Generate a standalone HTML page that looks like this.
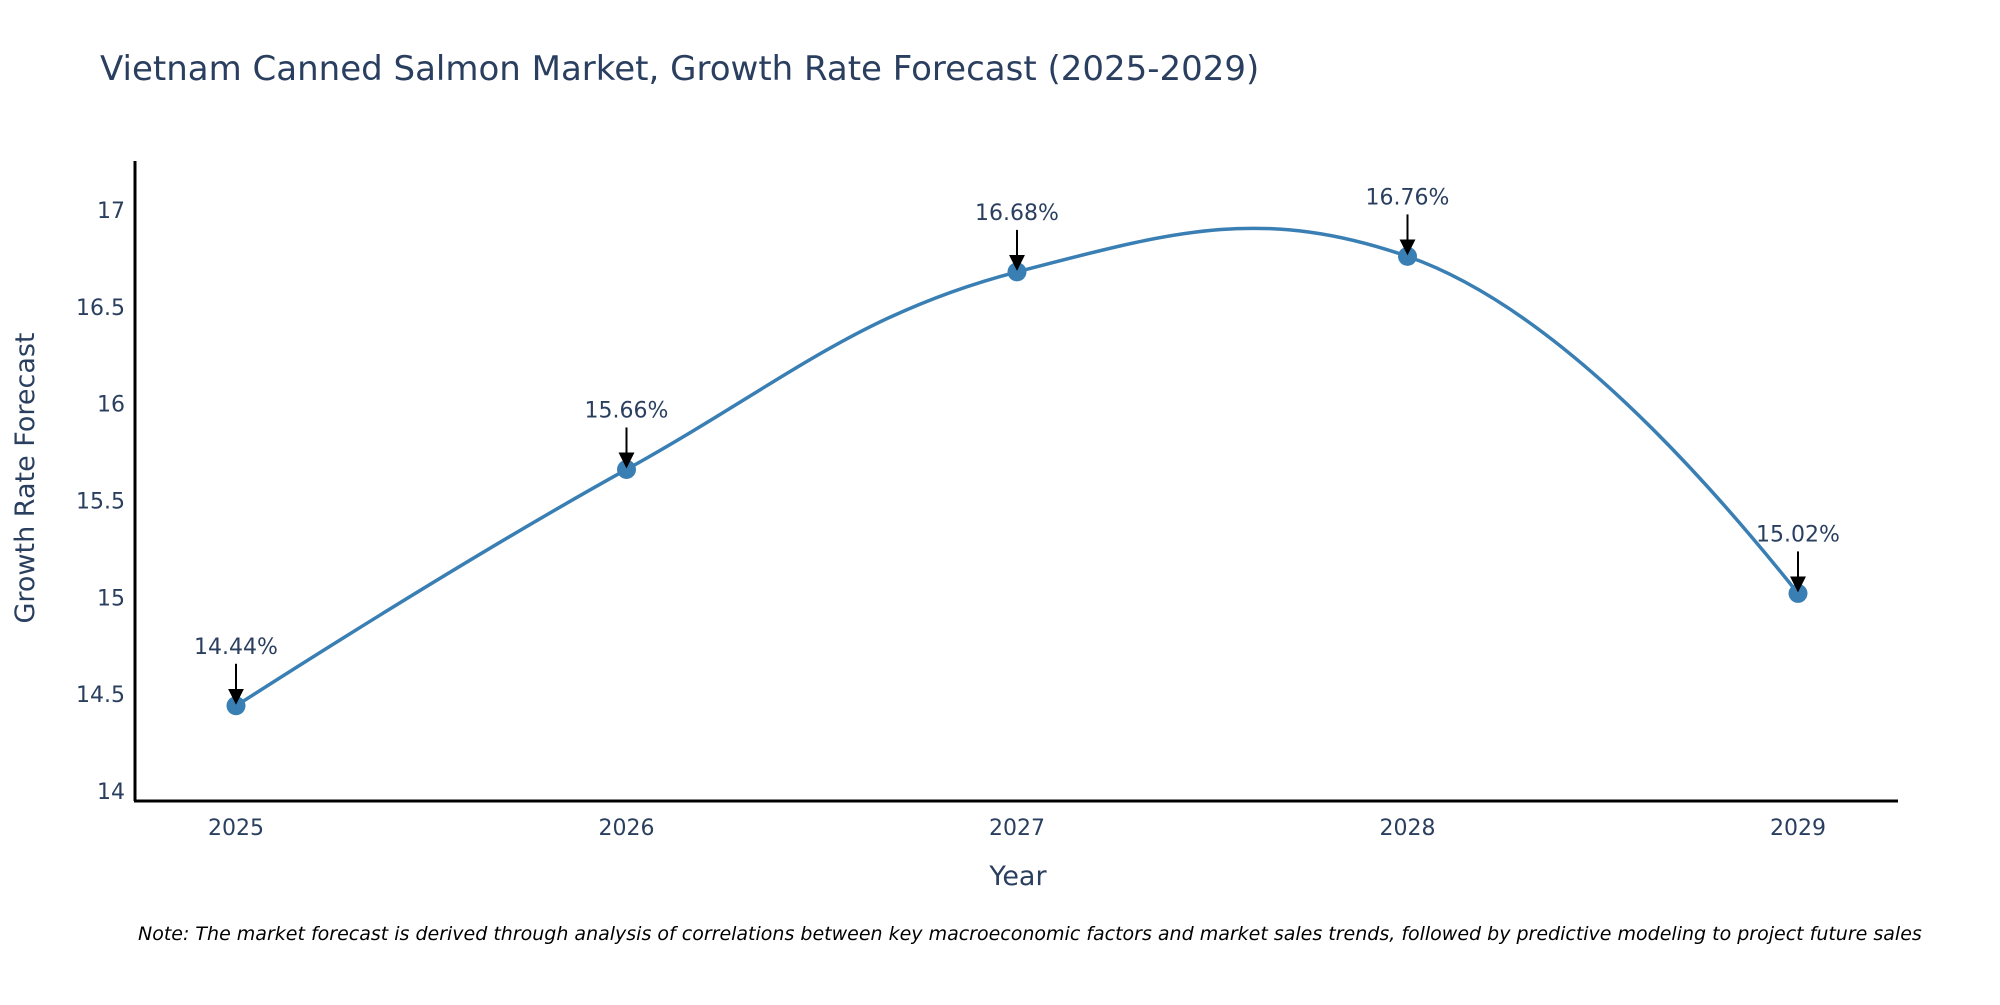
<!DOCTYPE html>
<html><head><meta charset="utf-8"><style>
body{margin:0;background:#fff;}
svg text{font-family:"DejaVu Sans","Liberation Sans",sans-serif;fill:#2a3f5f;}
</style></head><body>
<svg width="2000" height="1000" xmlns="http://www.w3.org/2000/svg">
<text x="100" y="80" font-size="34">Vietnam Canned Salmon Market, Growth Rate Forecast (2025-2029)</text>
<g id="yticks"></g>
<g id="xticks"></g>
<line x1="135" y1="161" x2="135" y2="801" stroke="#000" stroke-width="3"/>
<line x1="134" y1="801" x2="1898" y2="801" stroke="#000" stroke-width="3"/>
<path id="line" fill="none" stroke="#3a7fb4" stroke-width="3.5"/>
<g id="marks"></g>
<defs><marker id="ah" markerWidth="16" markerHeight="16" refX="14" refY="8" orient="auto" markerUnits="userSpaceOnUse"><path d="M0,0 L16,8 L0,16 z" fill="#000"/></marker></defs>
<text transform="translate(34,478) rotate(-90)" text-anchor="middle" font-size="27">Growth Rate Forecast</text>
<text x="1018" y="885" text-anchor="middle" font-size="27">Year</text>
<text x="138" y="940" font-size="19" font-style="italic" style="fill:#000">Note: The market forecast is derived through analysis of correlations between key macroeconomic factors and market sales trends, followed by predictive modeling to project future sales</text>
</svg>
<script>
const years=[2025,2026,2027,2028,2029];
const values=[14.44,15.66,16.68,16.76,15.02];
const labels=["14.44%","15.66%","16.68%","16.76%","15.02%"];
const yTicks=[14,14.5,15,15.5,16,16.5,17];
const NS="http://www.w3.org/2000/svg";
const xs=y=>236+(y-2025)*390.5;
const ys=v=>791-(v-14)*193.7;
function mk(t,a,p){const e=document.createElementNS(NS,t);for(const k in a)e.setAttribute(k,a[k]);p.appendChild(e);return e;}
const yt=document.getElementById('yticks');
yTicks.forEach(v=>{const t=mk('text',{x:125,y:ys(v)+8,'text-anchor':'end','font-size':22},yt);t.textContent=v;

});
const xt=document.getElementById('xticks');
years.forEach(y=>{const t=mk('text',{x:xs(y),y:835,'text-anchor':'middle','font-size':22},xt);t.textContent=y;

});
const pts=years.map((y,i)=>[xs(y),ys(values[i])]);
const s=1.2;const tg=[];
for(let i=1;i<pts.length-1;i++){const p=pts[i-1],c=pts[i],n=pts[i+1];
const d1x=p[0]-c[0],d1y=p[1]-c[1],d2x=n[0]-c[0],d2y=n[1]-c[1];
const d1a=Math.pow(d1x*d1x+d1y*d1y,0.25),d2a=Math.pow(d2x*d2x+d2y*d2y,0.25);
const nx=(d2a*d2a*d1x-d1a*d1a*d2x)*s,ny=(d2a*d2a*d1y-d1a*d1a*d2y)*s;
const de1=3*d2a*(d1a+d2a),de2=3*d1a*(d1a+d2a);
tg.push([[c[0]+nx/de1,c[1]+ny/de1],[c[0]-nx/de2,c[1]-ny/de2]]);}
let d='M'+pts[0]+'Q'+tg[0][0]+' '+pts[1];
for(let i=2;i<pts.length-1;i++)d+='C'+tg[i-2][1]+' '+tg[i-1][0]+' '+pts[i];
d+='Q'+tg[pts.length-3][1]+' '+pts[pts.length-1];
document.getElementById('line').setAttribute('d',d);
const g=document.getElementById('marks');
pts.forEach((p,i)=>{
const c=mk('circle',{cx:p[0],cy:p[1],r:9.5,fill:'#3a7fb4'},g);


const l=mk('line',{x1:p[0],y1:p[1]-42,x2:p[0],y2:p[1]-3,stroke:'#000','stroke-width':2,'marker-end':'url(#ah)'},g);


const t=mk('text',{x:p[0],y:p[1]-52,'text-anchor':'middle','font-size':22},g);t.textContent=labels[i];

});
</script>
</body></html>
